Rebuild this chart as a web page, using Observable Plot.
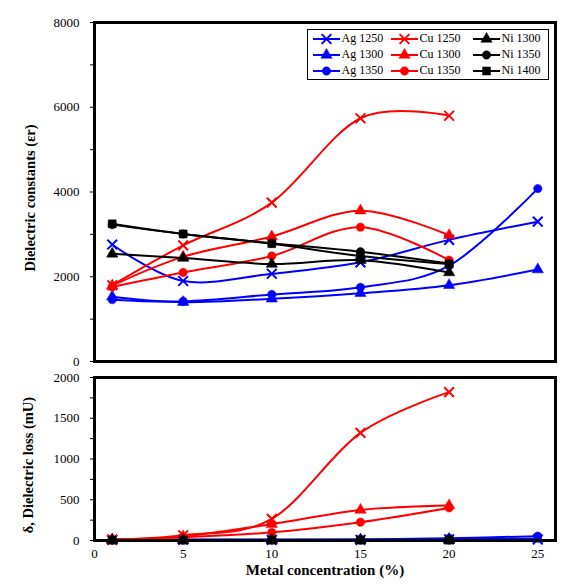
<!DOCTYPE html>
<html><head><meta charset="utf-8">
<script src="https://cdn.jsdelivr.net/npm/d3@7"></script>
<script src="https://cdn.jsdelivr.net/npm/@observablehq/plot@0.6"></script>
<style>
body{margin:0;background:#fff;}
#chart{position:relative;width:580px;height:588px;font-family:"Liberation Serif",serif;background:#fff;}
#chart svg{display:block;overflow:visible}
.legend{position:absolute;left:307px;top:29px;width:242px;height:51px;border:1.5px solid #000;background:#fff;box-sizing:border-box;}
.item{position:absolute;display:flex;align-items:center;font-size:12px;color:#000;height:16px;white-space:nowrap;}
.item svg{display:block;margin-right:1px}
</style></head><body><div id="chart"></div>
<script>
// ---- data ----
const conc = [1, 5, 10, 15, 20, 25];
const seriesNames = ["Ag 1250", "Ag 1300", "Ag 1350", "Cu 1250", "Cu 1300", "Cu 1350", "Ni 1300", "Ni 1350", "Ni 1400"];
const seriesColors = ["#0000ff", "#0000ff", "#0000ff", "#ff0000", "#ff0000", "#ff0000", "#000000", "#000000", "#000000"];
const seriesSymbols = ["times", "triangle", "circle", "times", "triangle", "circle", "triangle", "circle", "square"];

// Dielectric constant (εr)
const erAg1250 = [2760, 1900, 2070, 2340, 2870, 3300];
const erAg1300 = [1530, 1400, 1480, 1610, 1800, 2170];
const erAg1350 = [1460, 1420, 1580, 1750, 2260, 4080];
const erCu1250 = [1800, 2740, 3750, 5740, 5800];
const erCu1300 = [1790, 2470, 2950, 3560, 2980];
const erCu1350 = [1760, 2100, 2490, 3170, 2390];
const erNi1300 = [2540, 2440, 2300, 2390, 2100];
const erNi1350 = [3230, 3010, 2790, 2590, 2310];
const erNi1400 = [3250, 3010, 2780, 2490, 2300];

// Dielectric loss (mU)
const lossAg1250 = [8, 10, 8, 8, 15, 12];
const lossAg1300 = [8, 10, 8, 10, 18, 20];
const lossAg1350 = [8, 10, 10, 12, 28, 53];
const lossCu1250 = [10, 65, 265, 1320, 1820];
const lossCu1300 = [10, 50, 200, 375, 430];
const lossCu1350 = [10, 40, 100, 225, 400];
const lossNi1300 = [5, 5, 5, 5, 5];
const lossNi1350 = [5, 5, 5, 5, 5];
const lossNi1400 = [5, 5, 5, 5, 5];

const erTicks = [0, 1000, 2000, 3000, 4000, 5000, 6000, 7000, 8000];
const lossTicks = [0, 250, 500, 750, 1000, 1250, 1500, 1750, 2000];
const xTicks = [0, 5, 10, 15, 20, 25];

const yTitleTop = "Dielectric constants (εr)";
const yTitleBottom = "δ, Dielectric loss (mU)";
const xTitle = "Metal concentration (%)";

const erData = [erAg1250, erAg1300, erAg1350, erCu1250, erCu1300, erCu1350, erNi1300, erNi1350, erNi1400];
const lossData = [lossAg1250, lossAg1300, lossAg1350, lossCu1250, lossCu1300, lossCu1350, lossNi1300, lossNi1350, lossNi1400];

function seriesMarks(valuesList) {
  const marks = [];
  valuesList.forEach((vals, i) => {
    const data = vals.map((v, j) => ({x: conc[j], y: v}));
    const color = seriesColors[i];
    const sym = seriesSymbols[i];
    marks.push(Plot.line(data, {x: "x", y: "y", stroke: color, strokeWidth: 2, curve: "catmull-rom", tension: 0}));
    if (sym === "times") {
      marks.push(Plot.dot(data, {x: "x", y: "y", symbol: "times", r: 4.5, stroke: color, strokeWidth: 2, fill: "none"}));
    } else {
      marks.push(Plot.dot(data, {x: "x", y: "y", symbol: sym, r: sym === "square" ? 4.5 : 4.2, fill: color, stroke: color, strokeWidth: 0.5}));
    }
  });
  return marks;
}

const baseStyle = {fontFamily: '"Liberation Serif", serif', fontSize: "13px", background: "white", color: "black", overflow: "visible"};

const topPlot = Plot.plot({
  width: 580, height: 368,
  marginLeft: 94, marginRight: 25, marginTop: 22, marginBottom: 7,
  style: baseStyle,
  x: {domain: [0, 26], axis: null},
  y: {domain: [0, 8000]},
  marks: [
    Plot.axisY({ticks: erTicks, tickFormat: d => d % 2000 === 0 ? String(d) : "", tickSize: 4, tickPadding: 11, label: null}),
    ...seriesMarks(erData),
    Plot.frame({stroke: "black", strokeWidth: 3}),
    Plot.text([yTitleTop], {text: d => d, frameAnchor: "left", textAnchor: "middle", dx: -64, dy: 6, rotate: -90, fontWeight: "bold", fontSize: 14.5})
  ]
});

const bottomPlot = Plot.plot({
  width: 580, height: 220,
  marginLeft: 94, marginRight: 25, marginTop: 9, marginBottom: 48,
  style: baseStyle,
  x: {domain: [0, 26]},
  y: {domain: [0, 2000]},
  marks: [
    Plot.axisY({ticks: lossTicks, tickFormat: d => d % 500 === 0 ? String(d) : "", tickSize: 4, tickPadding: 11, label: null}),
    Plot.axisX({ticks: xTicks, tickSize: 0, tickPadding: 8, label: null}),
    ...seriesMarks(lossData),
    Plot.frame({stroke: "black", strokeWidth: 3}),
    Plot.text([yTitleBottom], {text: d => d, frameAnchor: "left", textAnchor: "middle", dx: -66, dy: 6, rotate: -90, fontWeight: "bold", fontSize: 14.5}),
    Plot.text([xTitle], {text: d => d, frameAnchor: "bottom", dy: 34, fontWeight: "bold", fontSize: 15})
  ]
});

const chart = document.getElementById("chart");
chart.appendChild(topPlot);
chart.appendChild(bottomPlot);

// ---- legend ----
const legend = document.createElement("div");
legend.className = "legend";
chart.appendChild(legend);
const symMap = {times: d3.symbolTimes, triangle: d3.symbolTriangle, circle: d3.symbolCircle, square: d3.symbolSquare};
const colX = [313, 391, 473];
const rowY = [39, 55, 71];
seriesNames.forEach((name, i) => {
  const col = Math.floor(i / 3), row = i % 3;
  const item = document.createElement("div");
  item.className = "item";
  item.style.left = (colX[col] - 307 - 1.5) + "px";
  item.style.top = (rowY[row] - 8 - 29 - 1.5) + "px";
  const sym = seriesSymbols[i];
  const color = seriesColors[i];
  const r = sym === "times" ? 4.5 : (sym === "square" ? 4.5 : 4.2);
  const path = d3.symbol().type(symMap[sym]).size(Math.PI * r * r)();
  const markerAttrs = sym === "times"
    ? `fill="none" stroke="${color}" stroke-width="2"`
    : `fill="${color}" stroke="${color}" stroke-width="0.5"`;
  item.innerHTML = `<svg width="28" height="16"><line x1="0" x2="27" y1="8" y2="8" stroke="${color}" stroke-width="2"/><path d="${path}" transform="translate(13.5,8)" ${markerAttrs}/></svg><span>${name}</span>`;
  legend.appendChild(item);
});
</script>
</body></html>
